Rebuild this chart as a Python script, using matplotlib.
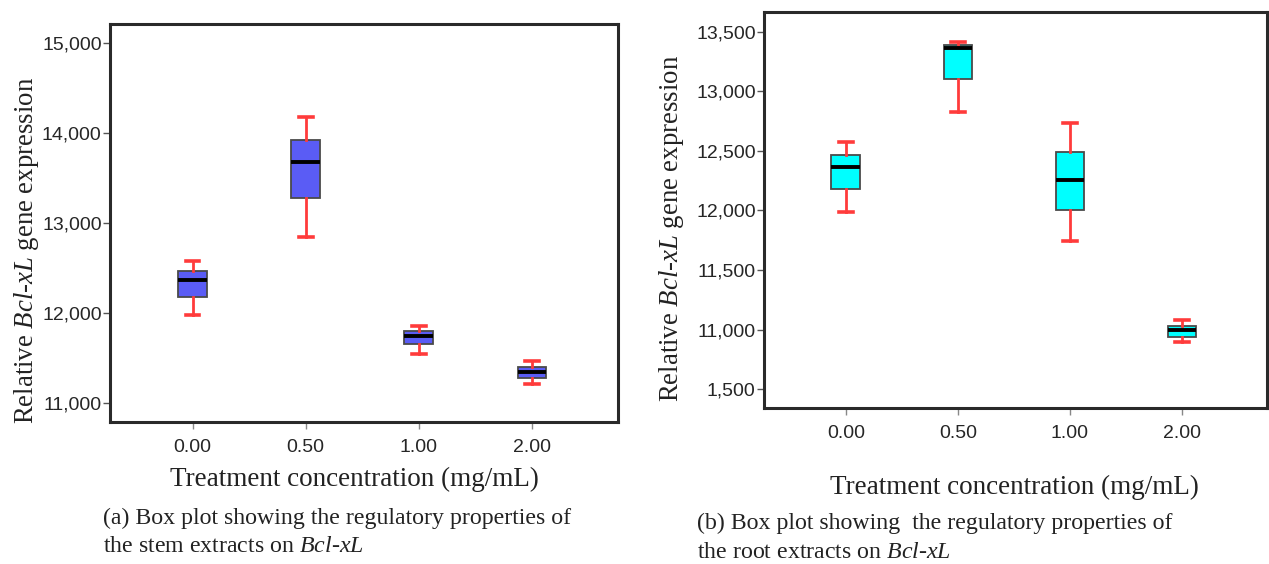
import matplotlib
matplotlib.use("Agg")
import matplotlib.pyplot as plt
from matplotlib.ticker import FixedLocator, FixedFormatter

# ---- data ----
categories = ["0.00", "0.50", "1.00", "2.00"]

stem_whislo = [11980, 12850, 11550, 11210]
stem_q1 = [12175, 13275, 11655, 11282]
stem_med = [12363, 13677, 11750, 11339]
stem_q3 = [12468, 13919, 11798, 11403]
stem_whishi = [12573, 14177, 11851, 11472]

root_whislo = [11991, 12831, 11747, 10892]
root_q1 = [12178, 13102, 12000, 10940]
root_med = [12367, 13367, 12253, 10994]
root_q3 = [12464, 13389, 12494, 11033]
root_whishi = [12575, 13416, 12735, 11081]

stem_yticks = [11000, 12000, 13000, 14000, 15000]
stem_yticklabels = ["11,000", "12,000", "13,000", "14,000", "15,000"]
root_yticks = [10500, 11000, 11500, 12000, 12500, 13000, 13500]
root_yticklabels = ["1,500", "11,000", "11,500", "12,000", "12,500", "13,000", "13,500"]

xlabel = "Treatment concentration (mg/mL)"
ylabel = "Relative $Bcl$-$xL$ gene expression"
caption_a = ["(a) Box plot showing the regulatory properties of",
             "the stem extracts on $Bcl$-$xL$"]
caption_b = ["(b) Box plot showing  the regulatory properties of",
             "the root extracts on $Bcl$-$xL$"]

plt.rcParams["mathtext.fontset"] = "custom"
plt.rcParams["mathtext.rm"] = "Liberation Serif"
plt.rcParams["mathtext.it"] = "Liberation Serif:italic"

W, H = 1269, 564
fig = plt.figure(figsize=(W / 100, H / 100), dpi=100)
fig.patch.set_facecolor("white")

serif = "Liberation Serif"
sans = "Liberation Sans"


def make_stats(lo, q1, med, q3, hi):
    return [dict(whislo=a, q1=b, med=c, q3=d, whishi=e, fliers=[], label=lab)
            for a, b, c, d, e, lab in zip(lo, q1, med, q3, hi, categories)]


def draw_panel(rect, stats, facecolor, yticks, yticklabels, ylim):
    ax = fig.add_axes(rect)
    ax.bxp(stats, positions=range(len(categories)), widths=0.255,
           patch_artist=True, showfliers=False,
           boxprops=dict(facecolor=facecolor, edgecolor="#4a4a4a", linewidth=1.3),
           medianprops=dict(color="black", linewidth=2.8),
           whiskerprops=dict(color="#ff3b3b", linewidth=2.0),
           capprops=dict(color="#ff3b3b", linewidth=2.6),
           capwidths=0.12)
    ax.set_xlim(-0.73, 3.76)
    ax.set_ylim(*ylim)
    ax.yaxis.set_major_locator(FixedLocator(yticks))
    ax.yaxis.set_major_formatter(FixedFormatter(yticklabels))
    ax.set_xticks(range(len(categories)))
    ax.set_xticklabels(categories)
    for lab in ax.get_xticklabels() + ax.get_yticklabels():
        lab.set_fontfamily(sans)
        lab.set_fontsize(14)
        lab.set_color("#262626")
    ax.tick_params(axis="y", length=5, width=1.0, color="#555555", pad=1)
    ax.tick_params(axis="x", length=5, width=1.0, color="#888888", pad=7)
    for s in ax.spines.values():
        s.set_linewidth(2.2)
        s.set_color("#2a2a2a")
    return ax


# left panel (stem)
ax1 = draw_panel([110 / W, 1 - 422 / H, 508 / W, 398 / H],
                 make_stats(stem_whislo, stem_q1, stem_med, stem_q3, stem_whishi),
                 "#5a5cf5", stem_yticks, stem_yticklabels, (10789, 15211))

# right panel (root)
ax2 = draw_panel([764 / W, 1 - 408 / H, 503 / W, 396 / H],
                 make_stats(root_whislo, root_q1, root_med, root_q3, root_whishi),
                 "#00ffff", root_yticks, root_yticklabels, (10341, 13667))

# y labels
fig.text(27 / W, 1 - 250 / H, ylabel, rotation=90, ha="center", va="center",
         family=serif, fontsize=19.3, color="#222222")
fig.text(671 / W, 1 - 228 / H, ylabel, rotation=90, ha="center", va="center",
         family=serif, fontsize=19.3, color="#222222")

# x labels
fig.text(354 / W, 1 - 479 / H, xlabel, ha="center", va="center",
         family=serif, fontsize=19.5, color="#222222")
fig.text(1014 / W, 1 - 487 / H, xlabel, ha="center", va="center",
         family=serif, fontsize=19.5, color="#222222")

# captions
for i, line in enumerate(caption_a):
    fig.text(103 / W, 1 - (518 + 29 * i) / H, line, ha="left", va="center",
             family=serif, fontsize=17.2, color="#222222")
for i, line in enumerate(caption_b):
    fig.text(697 / W, 1 - (523 + 29 * i) / H, line, ha="left", va="center",
             family=serif, fontsize=17.2, color="#222222")

fig.savefig("out.png", dpi=100, facecolor="white")
